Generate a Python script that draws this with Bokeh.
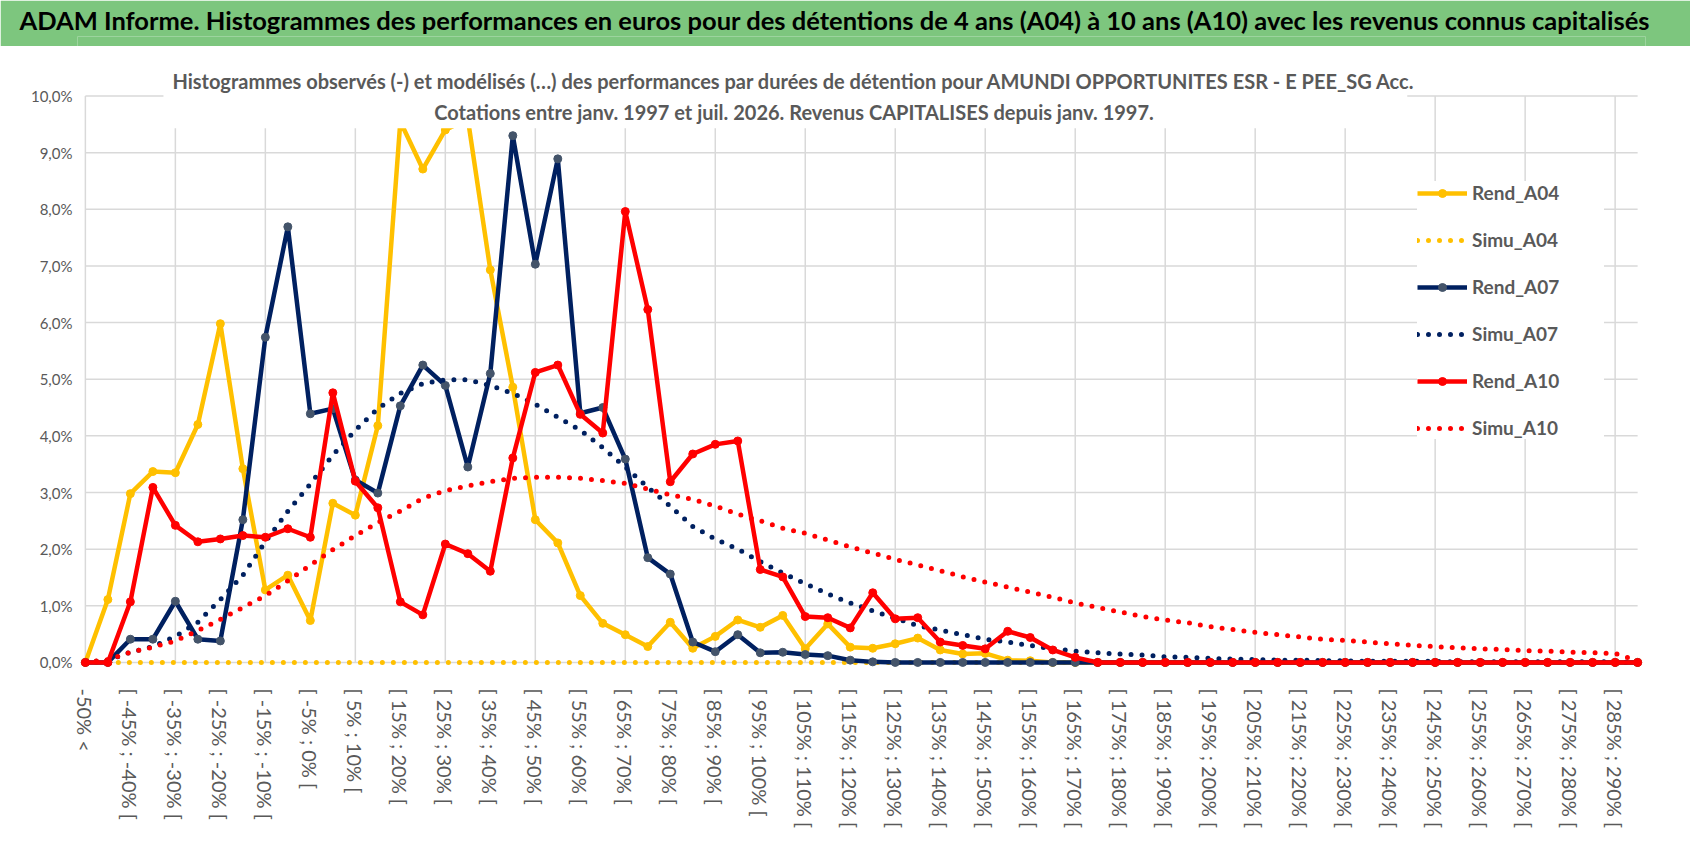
from bokeh.plotting import figure
from bokeh.models import (Range1d, FixedTicker, Label, BoxAnnotation,
                          Legend, LegendItem)
from bokeh.layouts import column
from bokeh.embed import file_html
from bokeh.resources import INLINE

FONT = "Lato"
GREY = "#595959"

# 5% performance bins, only every other one is labelled on the axis
categories = [
    "-50% <", "[ -50% ; -45% [", "[ -45% ; -40% [", "[ -40% ; -35% [", "[ -35% ; -30% [",
    "[ -30% ; -25% [", "[ -25% ; -20% [", "[ -20% ; -15% [", "[ -15% ; -10% [", "[ -10% ; -5% [",
    "[ -5% ; 0% [", "[ 0% ; 5% [", "[ 5% ; 10% [", "[ 10% ; 15% [", "[ 15% ; 20% [",
    "[ 20% ; 25% [", "[ 25% ; 30% [", "[ 30% ; 35% [", "[ 35% ; 40% [", "[ 40% ; 45% [",
    "[ 45% ; 50% [", "[ 50% ; 55% [", "[ 55% ; 60% [", "[ 60% ; 65% [", "[ 65% ; 70% [",
    "[ 70% ; 75% [", "[ 75% ; 80% [", "[ 80% ; 85% [", "[ 85% ; 90% [", "[ 90% ; 95% [",
    "[ 95% ; 100% [", "[ 100% ; 105% [", "[ 105% ; 110% [", "[ 110% ; 115% [", "[ 115% ; 120% [",
    "[ 120% ; 125% [", "[ 125% ; 130% [", "[ 130% ; 135% [", "[ 135% ; 140% [", "[ 140% ; 145% [",
    "[ 145% ; 150% [", "[ 150% ; 155% [", "[ 155% ; 160% [", "[ 160% ; 165% [", "[ 165% ; 170% [",
    "[ 170% ; 175% [", "[ 175% ; 180% [", "[ 180% ; 185% [", "[ 185% ; 190% [", "[ 190% ; 195% [",
    "[ 195% ; 200% [", "[ 200% ; 205% [", "[ 205% ; 210% [", "[ 210% ; 215% [", "[ 215% ; 220% [",
    "[ 220% ; 225% [", "[ 225% ; 230% [", "[ 230% ; 235% [", "[ 235% ; 240% [", "[ 240% ; 245% [",
    "[ 245% ; 250% [", "[ 250% ; 255% [", "[ 255% ; 260% [", "[ 260% ; 265% [", "[ 265% ; 270% [",
    "[ 270% ; 275% [", "[ 275% ; 280% [", "[ 280% ; 285% [", "[ 285% ; 290% [", "[ 290% ; 295% [",
]
idx = list(range(len(categories)))
x_ticks = idx[::2]
grid_x = idx[::4]

y_ticks = [0, 1, 2, 3, 4, 5, 6, 7, 8, 9, 10]
y_tick_labels = ["0,0%", "1,0%", "2,0%", "3,0%", "4,0%", "5,0%",
                 "6,0%", "7,0%", "8,0%", "9,0%", "10,0%"]

# values in %
rend_a04 = [0.0, 1.11, 2.98, 3.37, 3.35, 4.20, 5.98, 3.42, 1.28, 1.54,
            0.74, 2.81, 2.60, 4.18, 9.55, 8.71, 9.40, 9.60, 6.93, 4.86,
            2.52, 2.11, 1.18, 0.69, 0.49, 0.28, 0.71, 0.25, 0.46, 0.75,
            0.62, 0.83, 0.24, 0.68, 0.27, 0.25, 0.33, 0.43, 0.22, 0.15,
            0.16, 0.04, 0.03, 0.0, 0.0, 0.0, 0.0, 0.0, 0.0, 0.0,
            0.0, 0.0, 0.0, 0.0, 0.0, 0.0, 0.0, 0.0, 0.0, 0.0,
            0.0, 0.0, 0.0, 0.0, 0.0, 0.0, 0.0, 0.0, 0.0, 0.0]
simu_a04 = [0.0, 0.0, 0.0, 0.0, 0.0, 0.0, 0.0, 0.0, 0.0, 0.0,
            0.0, 0.0, 0.0, 0.0, 0.0, 0.0, 0.0, 0.0, 0.0, 0.0,
            0.0, 0.0, 0.0, 0.0, 0.0, 0.0, 0.0, 0.0, 0.0, 0.0,
            0.0, 0.0, 0.0, 0.0, 0.0, 0.0, 0.0, 0.0, 0.0, 0.0,
            0.0, 0.0, 0.0, 0.0, 0.0, 0.0, 0.0, 0.0, 0.0, 0.0,
            0.0, 0.0, 0.0, 0.0, 0.0, 0.0, 0.0, 0.0, 0.0, 0.0,
            0.0, 0.0, 0.0, 0.0, 0.0, 0.0, 0.0, 0.0, 0.0, 0.0]
rend_a07 = [0.0, 0.0, 0.41, 0.41, 1.08, 0.41, 0.38, 2.52, 5.74, 7.69,
            4.39, 4.48, 3.22, 2.99, 4.53, 5.25, 4.89, 3.45, 5.10, 9.30,
            7.03, 8.89, 4.40, 4.50, 3.59, 1.85, 1.56, 0.36, 0.19, 0.49,
            0.17, 0.18, 0.14, 0.12, 0.04, 0.01, 0.0, 0.0, 0.0, 0.0,
            0.0, 0.0, 0.0, 0.0, 0.0, 0.0, 0.0, 0.0, 0.0, 0.0,
            0.0, 0.0, 0.0, 0.0, 0.0, 0.0, 0.0, 0.0, 0.0, 0.0,
            0.0, 0.0, 0.0, 0.0, 0.0, 0.0, 0.0, 0.0, 0.0, 0.0]
simu_a07 = [0.0, 0.04, 0.18, 0.28, 0.46, 0.71, 1.11, 1.54, 2.13, 2.67,
            3.15, 3.66, 4.10, 4.48, 4.75, 4.92, 4.99, 4.99, 4.89, 4.75,
            4.56, 4.33, 4.10, 3.79, 3.45, 3.09, 2.76, 2.40, 2.18, 2.00,
            1.78, 1.58, 1.39, 1.21, 1.05, 0.91, 0.78, 0.65, 0.57, 0.49,
            0.41, 0.36, 0.30, 0.24, 0.20, 0.17, 0.15, 0.13, 0.10, 0.09,
            0.07, 0.06, 0.05, 0.04, 0.04, 0.03, 0.03, 0.02, 0.02, 0.02,
            0.02, 0.01, 0.01, 0.01, 0.01, 0.01, 0.01, 0.01, 0.01, 0.0]
rend_a10 = [0.0, 0.0, 1.07, 3.09, 2.42, 2.13, 2.18, 2.24, 2.21, 2.36,
            2.21, 4.76, 3.20, 2.73, 1.07, 0.84, 2.09, 1.92, 1.61, 3.61,
            5.12, 5.25, 4.38, 4.05, 7.96, 6.23, 3.19, 3.68, 3.85, 3.91,
            1.64, 1.51, 0.81, 0.79, 0.61, 1.23, 0.77, 0.79, 0.36, 0.30,
            0.24, 0.55, 0.44, 0.22, 0.09, 0.0, 0.0, 0.0, 0.0, 0.0,
            0.0, 0.0, 0.0, 0.0, 0.0, 0.0, 0.0, 0.0, 0.0, 0.0,
            0.0, 0.0, 0.0, 0.0, 0.0, 0.0, 0.0, 0.0, 0.0, 0.0]
simu_a10 = [0.0, 0.05, 0.18, 0.27, 0.38, 0.56, 0.76, 0.97, 1.18, 1.44,
            1.72, 1.99, 2.24, 2.47, 2.67, 2.90, 3.03, 3.12, 3.19, 3.25,
            3.27, 3.27, 3.25, 3.21, 3.16, 3.06, 2.96, 2.88, 2.76, 2.62,
            2.50, 2.37, 2.28, 2.16, 2.04, 1.93, 1.82, 1.72, 1.62, 1.51,
            1.42, 1.33, 1.24, 1.15, 1.05, 0.97, 0.89, 0.81, 0.75, 0.70,
            0.63, 0.58, 0.53, 0.49, 0.45, 0.41, 0.39, 0.36, 0.33, 0.30,
            0.28, 0.26, 0.24, 0.23, 0.21, 0.20, 0.18, 0.17, 0.16, 0.03]

YELLOW = "#FFC000"
NAVY = "#002060"
NAVY_MARK = "#44546A"
RED = "#FF0000"
GREEN = "#7dc67e"

# ---- green banner on top (text carried by the title so it is never clipped)
banner = figure(width=1690, height=46, toolbar_location=None, output_backend="svg",
                min_border_left=77, min_border_right=45, min_border_top=0, min_border_bottom=0,
                x_axis_type=None, y_axis_type=None,
                title="ADAM Informe. Histogrammes des performances en euros pour des détentions "
                      "de 4 ans (A04) à 10 ans (A10) avec les revenus connus capitalisés")
banner.background_fill_color = GREEN
banner.border_fill_color = GREEN
banner.outline_line_color = None
banner.title.align = "left"
banner.title.offset = -58
banner.title.standoff = 4
banner.title.text_font = FONT
banner.title.text_font_size = "25.5px"
banner.title.text_font_style = "bold"
banner.title.text_color = "black"

# ---- main chart
p = figure(width=1690, height=800, x_range=Range1d(-0.35, 69.35), y_range=Range1d(-0.16, 10.45),
           toolbar_location=None, output_backend="svg",
           min_border_left=77, min_border_right=45, min_border_top=24, min_border_bottom=175)
p.outline_line_color = None
p.xgrid.grid_line_color = None
p.ygrid.grid_line_color = None

# grid lines
p.segment(x0=[0] * len(y_ticks), x1=[69] * len(y_ticks), y0=y_ticks, y1=y_ticks,
          line_color="#d9d9d9", line_width=1.5)
p.segment(x0=grid_x, x1=grid_x, y0=[0] * len(grid_x), y1=[10] * len(grid_x),
          line_color="#d9d9d9", line_width=1.5)

l1 = p.line(idx, rend_a04, line_color=YELLOW, line_width=4.5, line_join="round")
m1 = p.scatter(idx, rend_a04, size=8, color=YELLOW)
l2 = p.line(idx, simu_a04, line_color=YELLOW, line_width=5, line_dash="0 11", line_cap="round")
l3 = p.line(idx, rend_a07, line_color=NAVY, line_width=4.5, line_join="round")
m3 = p.scatter(idx, rend_a07, size=8, color=NAVY_MARK)
l4 = p.line(idx, simu_a07, line_color=NAVY, line_width=5, line_dash="0 11", line_cap="round")
l5 = p.line(idx, rend_a10, line_color=RED, line_width=4.5, line_join="round")
m5 = p.scatter(idx, rend_a10, size=8, color=RED)
l6 = p.line(idx, simu_a10, line_color=RED, line_width=5, line_dash="0 11", line_cap="round")

# white box behind the chart title
p.add_layout(BoxAnnotation(left=3.47, right=58.76, bottom=9.43, top=10.45,
                           fill_color="white", fill_alpha=1, line_color=None))
p.add_layout(Label(x=31.5, y=10.26,
                   text="Histogrammes observés (-) et modélisés (…) des performances par durées de détention "
                        "pour AMUNDI OPPORTUNITES ESR - E PEE_SG Acc.",
                   text_font=FONT, text_font_size="20px", text_font_style="bold", text_color=GREY,
                   text_align="center", text_baseline="middle"))
p.add_layout(Label(x=31.5, y=9.71,
                   text="Cotations entre janv. 1997 et juil. 2026. Revenus CAPITALISES depuis janv. 1997.",
                   text_font=FONT, text_font_size="20px", text_font_style="bold", text_color=GREY,
                   text_align="center", text_baseline="middle"))

# axes
p.xaxis.ticker = FixedTicker(ticks=x_ticks)
p.xaxis.major_label_overrides = {i: categories[i] for i in x_ticks}
p.xaxis.major_label_orientation = "vertical"
p.xaxis.axis_line_color = None
p.xaxis.major_tick_line_color = None
p.xaxis.minor_tick_line_color = None
p.xaxis.major_label_standoff = 11
p.xaxis.major_label_text_font = FONT
p.xaxis.major_label_text_font_size = "20px"
p.xaxis.major_label_text_color = GREY

p.yaxis.ticker = FixedTicker(ticks=y_ticks)
p.yaxis.major_label_overrides = {t: lab for t, lab in zip(y_ticks, y_tick_labels)}
p.yaxis.axis_line_color = None
p.yaxis.major_tick_line_color = None
p.yaxis.minor_tick_line_color = None
p.yaxis.major_tick_out = 0
p.yaxis.major_label_standoff = 5
p.yaxis.major_label_text_font = FONT
p.yaxis.major_label_text_font_size = "15px"
p.yaxis.major_label_text_color = GREY

legend = Legend(items=[
    LegendItem(label="Rend_A04", renderers=[l1, m1]),
    LegendItem(label="Simu_A04", renderers=[l2]),
    LegendItem(label="Rend_A07", renderers=[l3, m3]),
    LegendItem(label="Simu_A07", renderers=[l4]),
    LegendItem(label="Rend_A10", renderers=[l5, m5]),
    LegendItem(label="Simu_A10", renderers=[l6]),
], location=(1340, 232))
legend.glyph_width = 50
legend.glyph_height = 20
legend.label_height = 20
legend.label_width = 132
legend.label_standoff = 5
legend.spacing = 24
legend.padding = 12
legend.margin = 0
legend.background_fill_color = "white"
legend.background_fill_alpha = 1
legend.border_line_color = None
legend.label_text_font = FONT
legend.label_text_font_size = "19px"
legend.label_text_font_style = "bold"
legend.label_text_color = GREY
p.add_layout(legend)

layout = column(banner, p, spacing=0)
open("out.html", "w").write(file_html(layout, INLINE))
